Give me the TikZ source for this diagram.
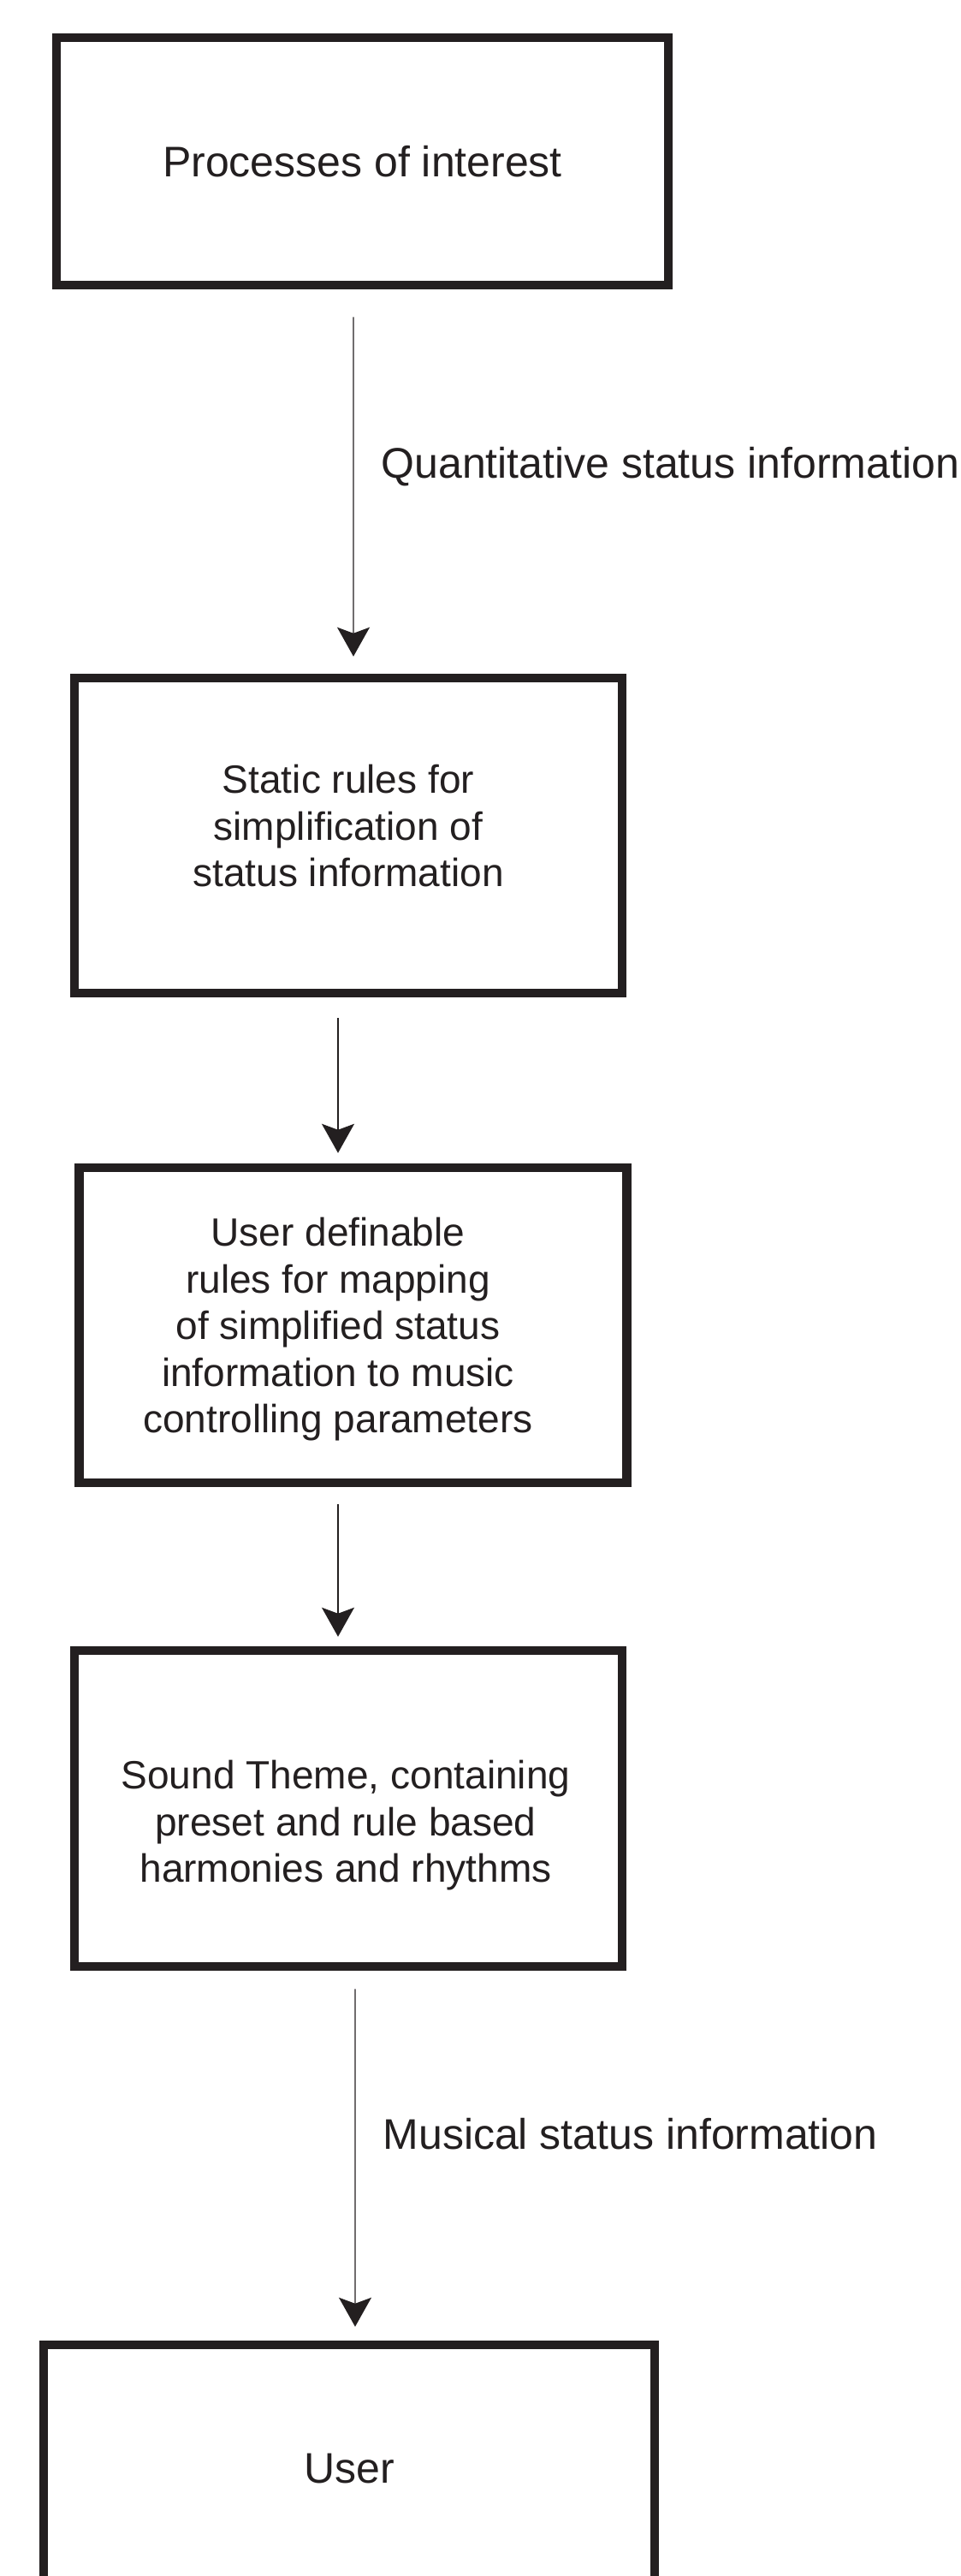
\documentclass[tikz,border=0pt]{standalone}
\usepackage{fontspec}
\setmainfont{Liberation Sans}
\usepackage{xcolor}
\usepackage{tikz}
\definecolor{boxblack}{HTML}{231F20}
\usetikzlibrary{arrows.meta}
\newcommand{\diagfont}{\fontsize{28.45}{31}\selectfont}
\newcommand{\smallboxfont}{\fontsize{26.2}{31}\selectfont}

\begin{document}
\begin{tikzpicture}[
	box/.style = {draw=boxblack, line width=0.21cm, inner sep=0pt, align=center, font=\diagfont, text=boxblack},
	boxtext/.style = {inner sep=0pt, align=center, font=\smallboxfont, text=boxblack},
	flow/.style = {draw=boxblack, line width=0.75pt, -{Stealth[length=0.68cm, width=0.76cm, inset=0.14cm]}},
	lbl/.style = {inner sep=0pt, font=\diagfont, text=boxblack}]
			\useasboundingbox (0,0) rectangle (22.46,-60.18);
			\clip (0,0) rectangle (22.46,-60.18);
			
			\node[box, minimum width=14.3cm, minimum height=5.78cm, xshift=8.47cm, yshift=-3.77cm] (n1) {Processes of interest};
			\node[box, minimum width=12.8cm, minimum height=7.36cm, xshift=8.14cm, yshift=-19.52cm] (n2) {};
			\node[box, minimum width=12.8cm, minimum height=7.36cm, xshift=8.25cm, yshift=-30.96cm] (n3) {};
			\node[box, minimum width=12.8cm, minimum height=7.38cm, xshift=8.14cm, yshift=-42.25cm] (n4) {};
			\node[box, minimum width=14.28cm, minimum height=5.78cm, xshift=8.16cm, yshift=-57.67cm] (n5) {User};
			
			% texts of the middle boxes sit a little off centre
			\node[boxtext, yshift=0.22cm] (t2) at (n2) {Static rules for\\simplification of\\status information};
			\node[boxtext, xshift=-0.35cm, yshift=-0.1cm] (t3) at (n3) {User definable\\rules for mapping\\of simplified status\\information to music\\controlling parameters};
			\node[boxtext, xshift=-0.06cm, yshift=-0.4cm] (t4) at (n4) {Sound Theme, containing\\preset and rule based\\harmonies and rhythms};
			
			\draw[flow, shorten <=0.64cm, shorten >=0.4cm] ([xshift=-0.21cm]n1.south) -- node[lbl, right=0.64cm, pos=0.461] (q1) {Quantitative status information} ([xshift=0.12cm]n2.north);
			\draw[flow, shorten <=0.48cm, shorten >=0.24cm] ([xshift=-0.24cm]n2.south) -- ([xshift=-0.35cm]n3.north);
			\draw[flow, shorten <=0.4cm, shorten >=0.22cm] ([xshift=-0.35cm]n3.south) -- ([xshift=-0.24cm]n4.north);
			\draw[flow, shorten <=0.42cm, shorten >=0.32cm] ([xshift=0.16cm]n4.south) -- node[lbl, right=0.64cm, pos=0.44] (q2) {Musical status information} ([xshift=0.14cm]n5.north);
			
\end{tikzpicture}
\end{document}
